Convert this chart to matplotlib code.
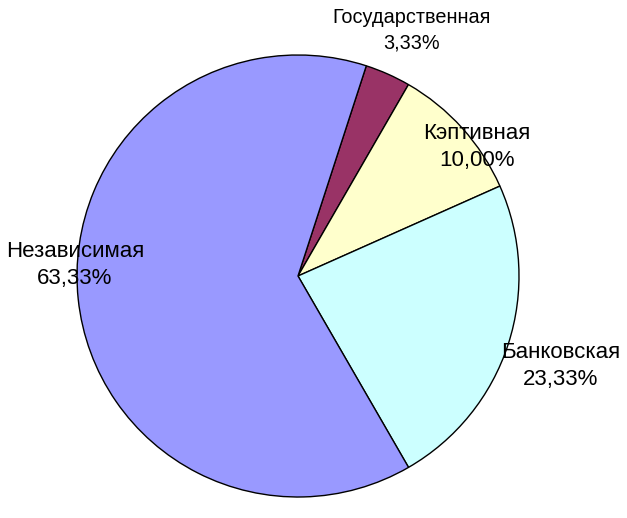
import matplotlib
matplotlib.use("Agg")
import matplotlib.pyplot as plt

categories = ["Государственная", "Кэптивная", "Банковская", "Независимая"]
shares = [3.33, 10.00, 23.33, 63.33]
pct_labels = ["3,33%", "10,00%", "23,33%", "63,33%"]
colors = ["#993366", "#FFFFCC", "#CCFFFF", "#9999FF"]

W, H = 627, 518
fig = plt.figure(figsize=(W / 100, H / 100), dpi=100)
ax = fig.add_axes([0, 0, 1, 1])

cx, cy, r = 298, H - 276, 221
ax.pie(shares, colors=colors, startangle=72, counterclock=False,
       center=(cx, cy), radius=r, frame=True,
       wedgeprops=dict(edgecolor="black", linewidth=1.0))
ax.set_xlim(0, W)
ax.set_ylim(0, H)
ax.set_aspect("equal")
ax.axis("off")

label_pos = [(412, H - 30, 14.3, 1.45), (477, H - 147, 16.0, 1.38),
             (561, H - 366, 16.0, 1.38), (75, H - 265, 16.0, 1.38)]
for name, pct, (x, y, fs, ls) in zip(categories, pct_labels, label_pos):
    ax.text(x, y, f"{name}\n{pct}", ha="center", va="center",
            fontsize=fs, family="Liberation Sans", linespacing=ls, color="black")

fig.savefig("out.png", dpi=100)
